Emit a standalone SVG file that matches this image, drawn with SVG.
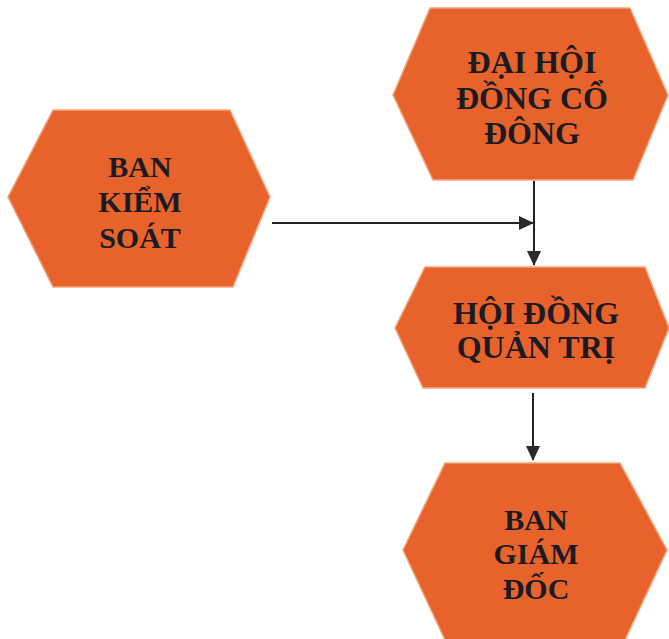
<svg xmlns="http://www.w3.org/2000/svg" width="669" height="639" viewBox="0 0 669 639">
<style>
.hex{fill:#E8632B;stroke:#F2A57A;stroke-width:1.5}
.t{font-family:"Liberation Serif","Times New Roman",serif;font-weight:bold;font-size:30px;fill:#1C1B24;text-anchor:middle}
.l{font-size:32px}
.c{stroke:#222;stroke-width:2;fill:none}
</style>
<defs>
<marker id="ah" markerWidth="15" markerHeight="14" refX="14" refY="7" orient="auto" markerUnits="userSpaceOnUse">
<path d="M0,0 L15,7 L0,14 Z" fill="#2a2a2a"/>
</marker>
</defs>
<rect width="669" height="639" fill="#fff"/>
<g id="dai-hoi-dong-co-dong">
<polygon class="hex" points="430,8 630,8 668,95 633,180 433,180 393,95"/>
<text class="t l" x="532" y="73">ĐẠI HỘI</text>
<text class="t l" x="532" y="109">ĐỒNG CỔ</text>
<text class="t l" x="532" y="144">ĐÔNG</text>
</g>
<g id="ban-kiem-soat">
<polygon class="hex" points="53,110 230,110 270,197 233,287 53,287 8,197"/>
<text class="t" x="140" y="177">BAN</text>
<text class="t" x="140" y="212">KIỂM</text>
<text class="t" x="140" y="248">SOÁT</text>
</g>
<g id="hoi-dong-quan-tri">
<polygon class="hex" points="425,267 645,267 669,328 645,388 423,388 395,328"/>
<text class="t l" x="536" y="324">HỘI ĐỒNG</text>
<text class="t l" x="536" y="358">QUẢN TRỊ</text>
</g>
<g id="ban-giam-doc">
<polygon class="hex" points="445,463 620,463 667,550 625,640 445,640 403,550"/>
<text class="t" x="536" y="530">BAN</text>
<text class="t" x="536" y="564">GIÁM</text>
<text class="t" x="536" y="599">ĐỐC</text>
</g>
<g id="connectors">
<line class="c" x1="272" y1="223" x2="533" y2="223" marker-end="url(#ah)"/>
<line class="c" x1="534" y1="181" x2="534" y2="265" marker-end="url(#ah)"/>
<line class="c" x1="533" y1="393" x2="533" y2="460" marker-end="url(#ah)"/>
</g>
</svg>
